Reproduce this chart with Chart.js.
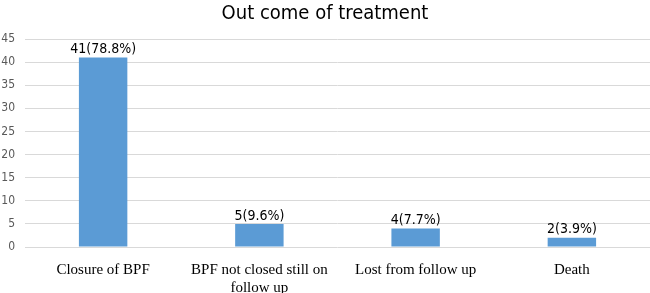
<!DOCTYPE html>
<html>
<head>
<meta charset="utf-8">
<script src="https://cdn.jsdelivr.net/npm/chart.js@4.4.1/dist/chart.umd.min.js"></script>
<style>
html,body{margin:0;padding:0;background:#fff;}
#wrap{width:650px;height:293px;position:relative;}
</style>
</head>
<body>
<div id="wrap"><canvas id="c"></canvas></div>
<script>
const categories = ["Closure of BPF", ["BPF not closed still on", "follow up"], "Lost from follow up", "Death"];
const values = [41, 5, 4, 2];
const valueLabels = ["41(78.8%)", "5(9.6%)", "4(7.7%)", "2(3.9%)"];
const yTicks = [0, 5, 10, 15, 20, 25, 30, 35, 40, 45];

const labelPlugin = {
  id: 'valueLabels',
  afterDatasetsDraw(chart) {
    const ctx = chart.ctx;
    const meta = chart.getDatasetMeta(0);
    ctx.save();
    ctx.font = '14px "DejaVu Sans Condensed", "DejaVu Sans", sans-serif';
    ctx.fillStyle = '#000';
    ctx.textAlign = 'center';
    ctx.textBaseline = 'bottom';
    meta.data.forEach((bar, i) => {
      ctx.fillText(valueLabels[i], bar.x, bar.y - 1);
    });
    ctx.restore();
  }
};

new Chart(document.getElementById('c'), {
  type: 'bar',
  data: {
    labels: categories,
    datasets: [{
      data: values,
      backgroundColor: '#5b9bd5',
      borderWidth: 0,
      categoryPercentage: 1.0,
      barPercentage: 0.31
    }]
  },
  options: {
    responsive: true,
    maintainAspectRatio: false,
    animation: false,
    layout: { padding: { left: 0, right: 0, top: 0, bottom: 0 } },
    plugins: {
      legend: { display: false },
      tooltip: { enabled: false },
      title: {
        display: true,
        text: 'Out come of treatment',
        color: '#000',
        font: { family: '"DejaVu Sans Condensed", "DejaVu Sans", sans-serif', size: 20, weight: 'normal', lineHeight: 1.2 },
        padding: { top: 2, bottom: 13 }
      }
    },
    scales: {
      x: {
        grid: { display: false },
        border: { display: false },
        afterFit(axis) { axis.height = 46; },
        ticks: {
          color: '#000',
          font: { family: '"Liberation Serif", "Times New Roman", serif', size: 15, lineHeight: 1.2 },
          maxRotation: 0,
          autoSkip: false,
          padding: 6
        }
      },
      y: {
        min: 0,
        max: 45,
        afterBuildTicks(axis) { axis.ticks = yTicks.map(v => ({ value: v })); },
        afterFit(axis) { axis.width = 25; },
        grid: { color: '#d9d9d9', drawTicks: false },
        border: { display: false },
        ticks: {
          color: '#595959',
          font: { family: '"DejaVu Sans Condensed", "DejaVu Sans", sans-serif', size: 12 },
          padding: 10
        }
      }
    }
  },
  plugins: [labelPlugin]
});
</script>
</body>
</html>
